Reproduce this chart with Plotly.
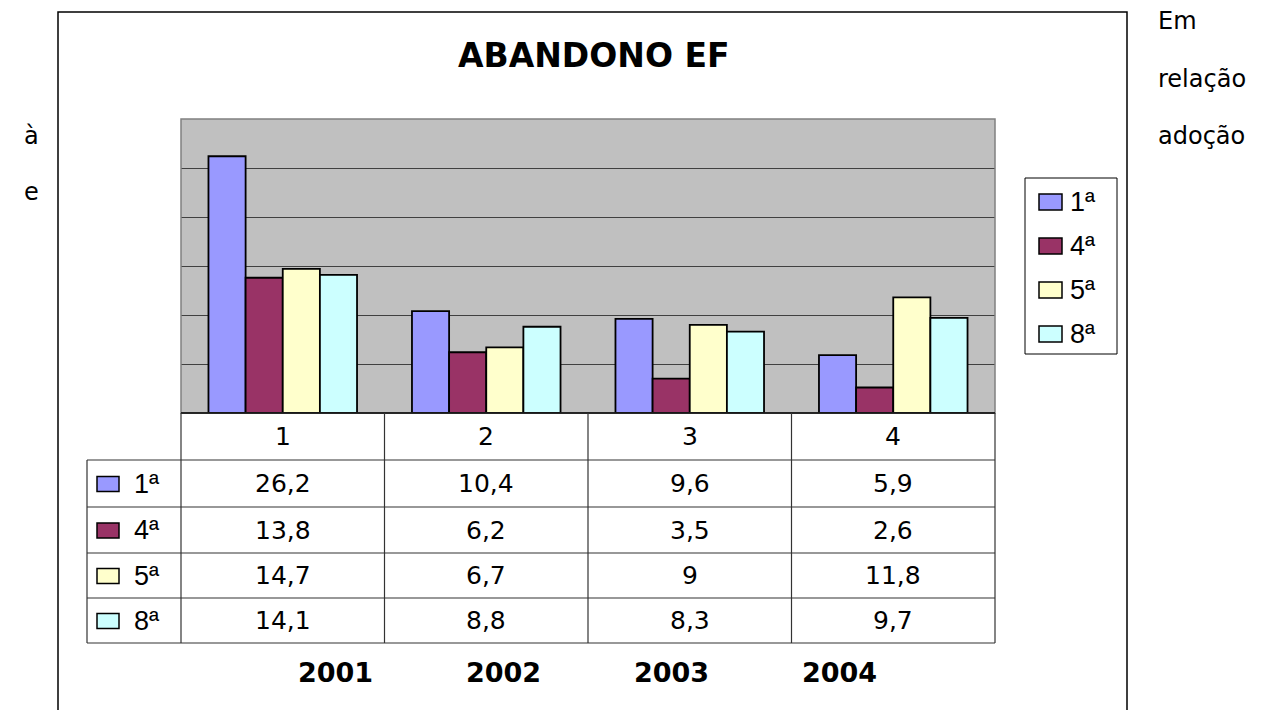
import plotly.graph_objects as go

W, H = 1277, 710
OFF = 8  # page body margin compensation

categories = ["1", "2", "3", "4"]
series_names = ["1ª", "4ª", "5ª", "8ª"]
values_1a = [26.2, 10.4, 9.6, 5.9]
values_4a = [13.8, 6.2, 3.5, 2.6]
values_5a = [14.7, 6.7, 9.0, 11.8]
values_8a = [14.1, 8.8, 8.3, 9.7]
years = ["2001", "2002", "2003", "2004"]
title = "ABANDONO EF"
side_texts_right = ["Em", "relação", "adoção"]
side_texts_left = ["à", "e"]

series_values = [values_1a, values_4a, values_5a, values_8a]
colors = ["#9999ff", "#993366", "#ffffcc", "#ccffff"]

FONT = "DejaVu Sans, Liberation Sans, Arial, sans-serif"
LFONT = "Liberation Sans, Arial, sans-serif"


def px(x):
    return (x - OFF) / W


def py(y):
    return 1 - (y - OFF) / H


def fmt(v):
    if float(v).is_integer():
        return str(int(v))
    return ("%g" % v).replace(".", ",")


def ann(x, y, text, size, xanchor="center", family=FONT):
    return dict(x=px(x), y=py(y), xref="paper", yref="paper", text=text,
                showarrow=False, xanchor=xanchor, yanchor="middle",
                font=dict(size=size, color="black", family=family))


# plot area in pixels
PL, PR, PT, PB = 181, 995, 119, 413

fig = go.Figure()
for name, vals, col in zip(series_names, series_values, colors):
    fig.add_trace(go.Bar(
        x=categories, y=vals, name=name,
        marker=dict(color=col, line=dict(color="black", width=1.8)),
        showlegend=False,
    ))

shapes = []
annotations = []

# outer chart frame
shapes.append(dict(type="rect", xref="paper", yref="paper",
                   x0=px(58), x1=px(1127), y0=py(730), y1=py(12),
                   line=dict(color="black", width=1.5), layer="below"))

# plot area border
shapes.append(dict(type="rect", xref="paper", yref="paper",
                   x0=px(PL), x1=px(PR), y0=py(PB), y1=py(PT),
                   line=dict(color="#808080", width=1.5)))

# table lines
col_edges = [PL + (PR - PL) * i / 4 for i in range(5)]
row_edges = [413, 460, 507, 553, 598, 643]
line_col = "#333333"
shapes.append(dict(type="line", xref="paper", yref="paper",
                   x0=px(PL), x1=px(PR), y0=py(PB), y1=py(PB),
                   line=dict(color="black", width=1.5)))
for ry in row_edges[1:]:
    shapes.append(dict(type="line", xref="paper", yref="paper",
                       x0=px(87), x1=px(PR), y0=py(ry), y1=py(ry),
                       line=dict(color=line_col, width=1.2)))
for cx in col_edges:
    shapes.append(dict(type="line", xref="paper", yref="paper",
                       x0=px(cx), x1=px(cx), y0=py(413), y1=py(643),
                       line=dict(color=line_col, width=1.2)))
shapes.append(dict(type="line", xref="paper", yref="paper",
                   x0=px(87), x1=px(87), y0=py(460), y1=py(643),
                   line=dict(color=line_col, width=1.2)))

TFS = 25
LFS = 27
# header row
for i, c in enumerate(categories):
    cx = (col_edges[i] + col_edges[i + 1]) / 2
    annotations.append(ann(cx, (row_edges[0] + row_edges[1]) / 2, c, TFS))
# data rows
for r, (name, vals, col) in enumerate(zip(series_names, series_values, colors)):
    yc = (row_edges[r + 1] + row_edges[r + 2]) / 2
    shapes.append(dict(type="rect", xref="paper", yref="paper",
                       x0=px(97), x1=px(119), y0=py(yc + 8), y1=py(yc - 7),
                       fillcolor=col, line=dict(color="black", width=1.5)))
    annotations.append(ann(132, yc, name, LFS, xanchor="left", family=LFONT))
    for i, v in enumerate(vals):
        cx = (col_edges[i] + col_edges[i + 1]) / 2
        annotations.append(ann(cx, yc, fmt(v), TFS))

# years under table
year_x = [335, 503, 671, 839]
for yx, yr in zip(year_x, years):
    annotations.append(ann(yx, 672, "<b>%s</b>" % yr, 27))

# title
annotations.append(ann(594, 55, "<b>%s</b>" % title, 33))

# legend (manual)
shapes.append(dict(type="rect", xref="paper", yref="paper",
                   x0=px(1025), x1=px(1117), y0=py(354), y1=py(178),
                   line=dict(color="black", width=1), fillcolor="white"))
leg_y = [202, 246, 290, 334]
for ly, name, col in zip(leg_y, series_names, colors):
    shapes.append(dict(type="rect", xref="paper", yref="paper",
                       x0=px(1039), x1=px(1062), y0=py(ly + 8), y1=py(ly - 8),
                       fillcolor=col, line=dict(color="black", width=1.5)))
    annotations.append(ann(1068, ly, name, LFS, xanchor="left", family=LFONT))

# surrounding document text
for t, ty in zip(side_texts_right, [21, 79, 136]):
    annotations.append(ann(1156, ty, t, 24, xanchor="left"))
for t, ty in zip(side_texts_left, [136, 192]):
    annotations.append(ann(22, ty, t, 24, xanchor="left"))

fig.update_layout(
    width=W, height=H,
    margin=dict(l=0, r=0, t=0, b=0),
    paper_bgcolor="white",
    plot_bgcolor="#c0c0c0",
    barmode="group",
    bargap=0.27,
    bargroupgap=0,
    showlegend=False,
    xaxis=dict(domain=[px(PL), px(PR)], type="category", showticklabels=False,
               showgrid=False, zeroline=False, showline=False, ticks=""),
    yaxis=dict(domain=[py(PB), py(PT)], range=[0, 30], dtick=5,
               showticklabels=False, showgrid=True, gridcolor="#404040",
               gridwidth=1.2, zeroline=False, showline=False, ticks=""),
    shapes=shapes,
    annotations=annotations,
)

fig.write_html("out.html")
